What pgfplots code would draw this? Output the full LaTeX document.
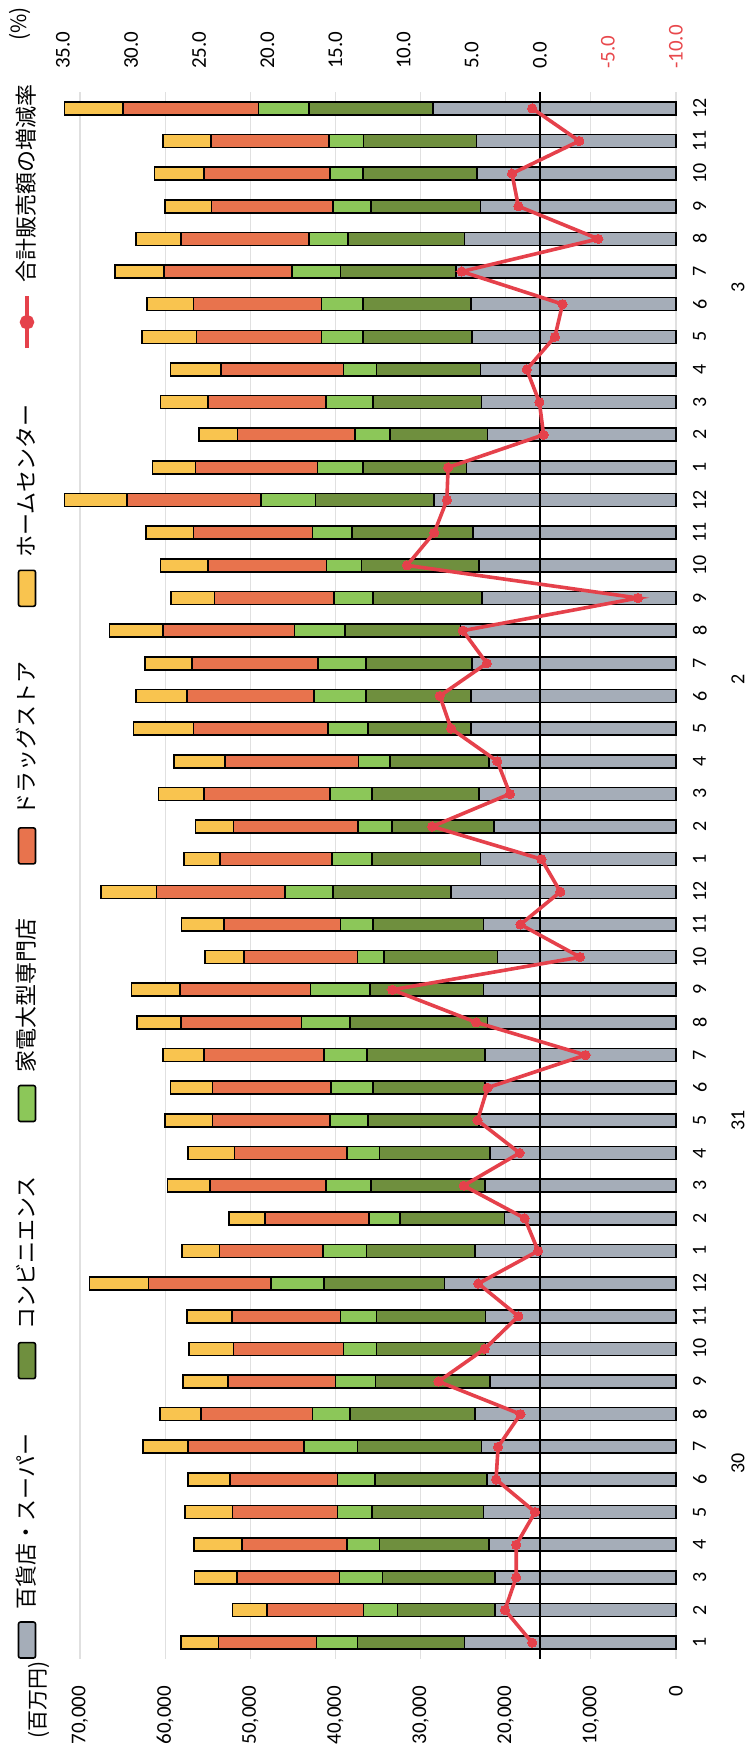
\documentclass[border=0pt]{standalone}
\usepackage{fontspec}
\setmainfont{Carlito}
\newfontfamily\jp{Noto Sans CJK JP}
\usepackage{pgfplots}
\usepackage{pgfplotstable}
\pgfplotsset{compat=1.18}
\definecolor{cgray}{HTML}{A5ADB8}
\definecolor{cdg}{HTML}{6F8F3E}
\definecolor{clg}{HTML}{8CC759}
\definecolor{cor}{HTML}{E8734D}
\definecolor{cye}{HTML}{F9C44F}
\definecolor{cred}{HTML}{E5414B}
\definecolor{cneg}{HTML}{E8484C}
\pgfplotsset{
  barleg/.style={legend image code/.code={\draw[##1,/tikz/.cd,rounded corners=1pt] (0pt,-4.25pt) rectangle (18pt,4.25pt);}},
  lineleg/.style={legend image code/.code={\draw[##1,/tikz/.cd,mark=none] (0pt,0pt) -- (26pt,0pt); \fill[cred] (13pt,0pt) circle (2.6pt);}},
}
\pgfplotstableread{
x gray dg lg or ye pct
1 24833 12589 4789 11503 4443 0.56
2 21229 11503 3950 11355 4048 2.56
3 21229 13231 5085 12046 4986 1.73
4 21970 12836 3851 12343 5579 1.73
5 22611 13083 4048 12343 5579 0.34
6 22217 13132 4394 12639 4937 3.21
7 22858 14564 6270 13626 5283 3.06
8 23599 14663 4443 13083 4838 1.42
9 21871 13429 4690 12639 5283 7.44
10 22365 12836 3851 12935 5184 4.04
11 22365 12836 4196 12737 5283 1.57
12 27203 14169 6171 14416 6912 4.51
13 23599 12737 5134 12145 4394 0.12
14 20143 12244 3703 12194 4196 1.11
15 22463 13330 5332 13577 5036 5.59
16 21871 12935 3851 13182 5480 1.48
17 23105 13083 4443 13824 5579 4.57
18 22463 13132 4937 13922 4937 3.83
19 22463 13824 5085 14070 4838 -3.36
20 22118 16144 5727 14169 5184 4.66
21 22611 13330 7011 15305 5678 10.83
22 20982 13330 3110 13330 4591 -2.96
23 22611 12984 3801 13725 4937 1.42
24 26462 13824 5628 15107 6517 -1.51
25 22957 12737 4690 13182 4246 -0.12
26 21377 11997 3950 14663 4443 7.90
27 23105 12589 4937 14811 5332 2.19
28 21970 11651 3653 15700 6023 3.12
29 24093 12096 4690 15798 7060 6.51
30 24093 12343 6073 14910 6023 7.34
31 23944 12491 5579 14811 5529 3.89
32 25327 13577 5924 15453 6270 5.65
33 22760 12836 4542 14070 5085 -7.22
34 23105 13824 4098 13922 5579 9.75
35 23846 14219 4641 13972 5579 7.75
36 28437 13922 6418 15700 7356 6.82
37 24586 12194 5332 14317 5036 6.73
38 22118 11503 4048 13824 4542 -0.28
39 22858 12737 5529 13824 5579 0.03
40 22957 12244 3851 14416 5924 0.96
41 23944 12836 4838 14712 6418 -1.11
42 24093 12688 4838 15058 5431 -1.67
43 25821 13577 5678 15058 5776 5.74
44 24833 13675 4591 15058 5283 -4.29
45 22957 12836 4493 14268 5431 1.57
46 23352 13429 3851 14811 5826 2.04
47 23451 13231 4098 13824 5678 -2.90
48 28536 14564 5924 15897 6912 0.56
}\datatable

\begin{document}
\begin{tikzpicture}
\begin{scope}[transform canvas={rotate=90}]
\begin{axis}[
  at={(47.5pt,37.5pt)}, anchor=south west,
  scale only axis, width=783.5pt, height=306.5pt,
  xmin=0.5, xmax=48.5, ymin=0, ymax=72000,
  ybar stacked, bar width=6.5pt,
  axis line style={draw=none}, major tick length=0pt, tick style={draw=none},
  scaled y ticks=false, scaled x ticks=false,
  xtick={1,...,48},
  xticklabels={1,2,3,4,5,6,7,8,9,10,11,12,1,2,3,4,5,6,7,8,9,10,11,12,1,2,3,4,5,6,7,8,9,10,11,12,1,2,3,4,5,6,7,8,9,10,11,12},
  xticklabel style={font=\fontsize{10}{12}\selectfont, yshift=-5pt},
  ytick={0,10000,20000,30000,40000,50000,60000,70000},
  yticklabels={0,{10,000},{20,000},{30,000},{40,000},{50,000},{60,000},{70,000}},
  yticklabel style={font=\fontsize{10.5}{12}\selectfont, xshift=-10pt},
  ymajorgrids, grid style={black!12, line width=0.6pt},
  legend columns=6,
  legend style={draw=none, fill=none, at={(0.5,1)}, anchor=center, xshift=3pt, yshift=18pt,
    font=\jp\fontsize{11}{13}\selectfont,
    /tikz/every even column/.append style={column sep=25pt},
    /tikz/every odd column/.append style={column sep=4pt}},
  clip=false,
]
\addplot[fill=cgray, draw=black, line width=0.8pt, barleg] table[x=x,y=gray]{\datatable};
\addlegendentry{百貨店・スーパー}
\addplot[fill=cdg, draw=black, line width=0.8pt, barleg] table[x=x,y=dg]{\datatable};
\addlegendentry{コンビニエンス}
\addplot[fill=clg, draw=black, line width=0.8pt, barleg] table[x=x,y=lg]{\datatable};
\addlegendentry{家電大型専門店}
\addplot[fill=cor, draw=black, line width=0.8pt, barleg] table[x=x,y=or]{\datatable};
\addlegendentry{ドラッグストア}
\addplot[fill=cye, draw=black, line width=0.8pt, barleg] table[x=x,y=ye]{\datatable};
\addlegendentry{ホームセンター}
\addlegendimage{cred, line width=2pt, lineleg}
\addlegendentry{合計販売額の増減率}
\node[font=\jp\fontsize{10.5}{12}\selectfont] at (rel axis cs:0,1) [xshift=-20.5pt, yshift=12pt] {(百万円)};
\node[font=\jp\fontsize{10.5}{12}\selectfont] at (rel axis cs:1,1) [xshift=34pt, yshift=21.5pt] {(\%)};
\node[font=\fontsize{10}{12}\selectfont] at (axis cs:6.5,0) [yshift=-31pt] {30};
\node[font=\fontsize{10}{12}\selectfont] at (axis cs:17,0) [yshift=-31pt] {31};
\node[font=\fontsize{10}{12}\selectfont] at (axis cs:30.5,0) [yshift=-31pt] {2};
\node[font=\fontsize{10}{12}\selectfont] at (axis cs:42.5,0) [yshift=-31pt] {3};
\end{axis}
\begin{axis}[
  at={(47.5pt,37.5pt)}, anchor=south west,
  scale only axis, width=783.5pt, height=306.5pt,
  xmin=0.5, xmax=48.5, ymin=-10, ymax=35,
  hide x axis, axis line style={draw=none}, major tick length=0pt, tick style={draw=none},
  scaled y ticks=false,
  yticklabel pos=right,
  ytick={-10,-5,0,5,10,15,20,25,30,35},
  yticklabels={{\color{cneg}-10.0},{\color{cneg}-5.0},0.0,5.0,10.0,15.0,20.0,25.0,30.0,35.0},
  yticklabel style={font=\fontsize{10.5}{12}\selectfont, xshift=8pt},
  clip=false,
]
\addplot[black, line width=0.8pt, forget plot] coordinates {(0.5,0) (48.5,0)};
\addplot[cred, line width=1.8pt, mark=*, mark size=2.3pt, mark options={fill=cred, draw=cred, line width=0pt}] table[x=x,y=pct]{\datatable};
\end{axis}
\end{scope}
\pgfresetboundingbox
\useasboundingbox (-375.5pt,0pt) rectangle (0pt,877pt);
\end{tikzpicture}
\end{document}
